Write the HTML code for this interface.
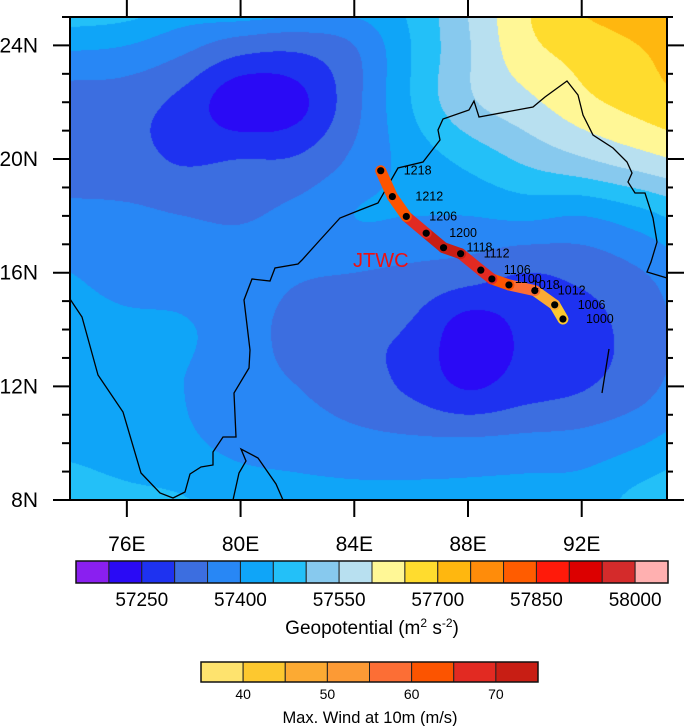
<!DOCTYPE html>
<html><head><meta charset="utf-8"><style>
html,body{margin:0;padding:0;background:#fff;}
#wrap{position:relative;width:685px;height:726px;overflow:hidden;font-family:"Liberation Sans",sans-serif;}
canvas{position:absolute;left:70px;top:17px;}
svg{position:absolute;left:0;top:0;}
</style></head><body>
<div id="wrap">
<canvas id="field" width="597" height="483"></canvas>
<svg id="svg" width="685" height="726"></svg>
</div>
<script>
// ---- data ----
const gridLons = [74,76,78,80,82,84,86,88,90,92,94,96];
const gridLats = [26,24,22,20,18,16,14,12,10,8];
const zRow26 = [57478,57460,57415,57440,57425,57400,57415,57505,57595,57670,57700,57725];
const zRow24 = [57360,57350,57315,57275,57265,57300,57400,57495,57585,57620,57650,57680];
const zRow22 = [57275,57270,57235,57165,57185,57285,57400,57490,57535,57585,57620,57650];
const zRow20 = [57270,57265,57245,57250,57255,57310,57370,57415,57460,57495,57530,57560];
const zRow18 = [57315,57310,57300,57295,57315,57350,57350,57350,57360,57350,57380,57425];
const zRow16 = [57350,57325,57325,57320,57305,57300,57290,57275,57250,57265,57295,57340];
const zRow14 = [57375,57365,57355,57325,57280,57260,57245,57175,57210,57230,57270,57320];
const zRow12 = [57375,57370,57350,57320,57300,57275,57240,57195,57225,57245,57280,57330];
const zRow10 = [57390,57375,57360,57335,57325,57315,57310,57310,57315,57320,57345,57380];
const zRow8  = [57420,57410,57402,57380,57370,57365,57365,57365,57370,57375,57415,57450];
const zLevelStart = 57150, zLevelStep = 50;
const zColors = ["#8a1ff0","#2a0af5","#1e32f0","#3c6ee0","#2887f5","#0fa5f8","#23c0f8","#87c9ee","#b8e0f0","#fff796","#ffdc2e","#ffb70f","#ff8c0a","#ff5c00","#ff1a0a","#dc0000","#d42b2b","#ffb0b0"];
const zTickLabels = ["57250","57400","57550","57700","57850","58000"];
const zTickIndex = [2,5,8,11,14,17];

const trackLabels = ["1000","1006","1012","1018","1100","1106","1112","1118","1200","1206","1212","1218"];
const trackLons = [91.34,91.05,90.35,89.44,88.84,88.45,87.74,87.14,86.53,85.83,85.34,84.93];
const trackLats = [14.37,14.87,15.37,15.57,15.78,16.09,16.67,16.88,17.39,17.98,18.68,19.59];
const trackWinds = [40,44,52,58,62,68,71,72,71,67,62,60];
const windLevels = [35,40,45,50,55,60,65,70,75];
const windColors = ["#fee36e","#fdc82f","#fcaa33","#fc9a35","#fc6e35","#fc5400","#e22a22","#c81e14"];
const windTickLabels = ["40","50","60","70"];

const lonTicks = [76,80,84,88,92];
const latTicks = [12,16,20,24,8];

// ---- axes ----
const X0=70, X1=667, Y0=17, Y1=500, LON0=74, LON1=95, LAT0=8, LAT1=25;
function xS(lon){return X0+(lon-LON0)*(X1-X0)/(LON1-LON0);}
function yS(lat){return Y1-(lat-LAT0)*(Y1-Y0)/(LAT1-LAT0);}
function xInv(px){return LON0+(px-X0)*(LON1-LON0)/(X1-X0);}
function yInv(py){return LAT0+(Y1-py)*(LAT1-LAT0)/(Y1-Y0);}

// ---- field ----
const zRows=[zRow26,zRow24,zRow22,zRow20,zRow18,zRow16,zRow14,zRow12,zRow10,zRow8];
function cr(p0,p1,p2,p3,t){return 0.5*((2*p1)+(-p0+p2)*t+(2*p0-5*p1+4*p2-p3)*t*t+(-p0+3*p1-3*p2+p3)*t*t*t);}
function gv(i,j){i=Math.max(0,Math.min(zRows.length-1,i));j=Math.max(0,Math.min(gridLons.length-1,j));return zRows[i][j];}
function fieldAt(lon,lat){
  const fx=(lon-gridLons[0])/(gridLons[1]-gridLons[0]);
  const fy=(gridLats[0]-lat)/(gridLats[0]-gridLats[1]);
  const j=Math.floor(fx), i=Math.floor(fy), tx=fx-j, ty=fy-i;
  const r=[];
  for(let k=-1;k<=2;k++){r.push(cr(gv(i+k,j-1),gv(i+k,j),gv(i+k,j+1),gv(i+k,j+2),tx));}
  return cr(r[0],r[1],r[2],r[3],ty);
}
function hex(c){return [parseInt(c.substr(1,2),16),parseInt(c.substr(3,2),16),parseInt(c.substr(5,2),16)];}
const cv=document.getElementById('field'), ctx=cv.getContext('2d');
const img=ctx.createImageData(cv.width,cv.height);
const rgb=zColors.map(hex);
for(let py=0;py<cv.height;py++){for(let px=0;px<cv.width;px++){
  const z=fieldAt(xInv(X0+px+0.5),yInv(Y0+py+0.5));
  let k=Math.floor((z-zLevelStart)/zLevelStep)+1; k=Math.max(0,Math.min(zColors.length-1,k));
  const o=(py*cv.width+px)*4, c=rgb[k];
  img.data[o]=c[0];img.data[o+1]=c[1];img.data[o+2]=c[2];img.data[o+3]=255;
}}
ctx.putImageData(img,0,0);

// ---- svg ----
const NS="http://www.w3.org/2000/svg", svg=document.getElementById('svg');
function mk(tag,attrs,parent){const e=document.createElementNS(NS,tag);for(const k in attrs)e.setAttribute(k,attrs[k]);(parent||svg).appendChild(e);return e;}

// coastlines (map geography, pixel polylines)
const coasts=[
 [[70,299],[82,317],[98,375],[123,412],[141,473],[160,493],[173,498],[185,492],[190,474],[201,467],[213,465],[213,452],[223,437],[236,437],[234,393],[249,368],[250,350],[244,300],[252,279],[270,281],[275,268],[298,264],[302,260],[320,240],[340,218],[360,210],[378,203],[398,168],[423,162],[440,140],[438,130],[443,119],[469,110],[474,101],[479,117],[533,107],[545,97],[567,81],[578,95],[583,115],[593,135],[613,148],[627,162],[632,173],[628,182],[635,193],[645,193],[653,218],[657,242],[651,262],[647,272],[667,278]],
 [[233,500],[239,473],[246,461],[241,449],[258,458],[276,484],[283,500]],
 [[609,349],[602,393]]
];
const cg=mk('g',{});


coasts.forEach(c=>{const p=mk('polyline',{points:c.map(q=>q.join(',')).join(' '),fill:'none',stroke:'#000','stroke-width':1.3},cg);

});

// track
function windColor(w){let k=Math.floor((w-windLevels[0])/(windLevels[1]-windLevels[0]));k=Math.max(0,Math.min(windColors.length-1,k));return windColors[k];}
const tg=mk('g',{});


for(let i=0;i<trackLons.length-1;i++){
  const s=mk('line',{x1:xS(trackLons[i]),y1:yS(trackLats[i]),x2:xS(trackLons[i+1]),y2:yS(trackLats[i+1]),stroke:windColor((trackWinds[i]+trackWinds[i+1])/2),'stroke-width':11,'stroke-linecap':'round'},tg);
  
  
}
for(let i=0;i<trackLons.length;i++){
  const d=mk('circle',{cx:xS(trackLons[i]),cy:yS(trackLats[i]),r:3.6,fill:'#000'},tg);
  
  
  const t=mk('text',{x:xS(trackLons[i])+23,y:yS(trackLats[i])+4,'font-size':12.5,fill:'#000'},tg);
  t.textContent=trackLabels[i];
  
  
}
const jt=mk('text',{x:353,y:267,'font-size':20,fill:'#f01010'});
jt.textContent='JTWC';



// frame and ticks
const fr=mk('rect',{x:X0,y:Y0,width:X1-X0,height:Y1-Y0,fill:'none',stroke:'#000','stroke-width':2});


const ax=mk('g',{stroke:'#000','stroke-width':2});


lonTicks.forEach(l=>{const x=xS(l);mk('line',{x1:x,y1:Y1,x2:x,y2:Y1+17},ax);mk('line',{x1:x,y1:Y0,x2:x,y2:Y0-17},ax);
  const t=mk('text',{x:x,y:551,'font-size':21,'text-anchor':'middle',fill:'#000',stroke:'none'});t.textContent=l+'E';
  
  });
for(let lat=LAT0;lat<=LAT1;lat++){const y=yS(lat);const major=(lat%4===0);
  mk('line',{x1:X0,y1:y,x2:X0-(major?17:8),y2:y},ax);mk('line',{x1:X1,y1:y,x2:X1+(major?17:6),y2:y},ax);}
latTicks.forEach(l=>{const t=mk('text',{x:38,y:yS(l)+7,'font-size':21,'text-anchor':'end',fill:'#000'});t.textContent=l+'N';
  
  });

// geopotential colorbar
const cb1=mk('g',{});


const cbX=76,cbW=592,cbY=561,cbH=22,bw=cbW/zColors.length;
zColors.forEach((c,i)=>{const r=mk('rect',{x:cbX+i*bw,y:cbY,width:bw,height:cbH,fill:c,stroke:'#222','stroke-width':1},cb1);
  
  });
mk('rect',{x:cbX,y:cbY,width:cbW,height:cbH,fill:'none',stroke:'#111','stroke-width':1.5},cb1);
zTickLabels.forEach((s,i)=>{const t=mk('text',{x:cbX+zTickIndex[i]*bw,y:606,'font-size':19,'text-anchor':'middle',fill:'#000'},cb1);t.textContent=s;
  
  });
const t1=mk('text',{x:372,y:634,'font-size':19,'text-anchor':'middle',fill:'#000'},cb1);
t1.innerHTML='Geopotential (m<tspan dy="-7" font-size="12">2</tspan><tspan dy="7"> s</tspan><tspan dy="-7" font-size="12">-2</tspan><tspan dy="7">)</tspan>';



// wind colorbar
const cb2=mk('g',{});


const wX=201,wW=337,wY=662,wH=20,ww=wW/windColors.length;
windColors.forEach((c,i)=>{const r=mk('rect',{x:wX+i*ww,y:wY,width:ww,height:wH,fill:c,stroke:'#222','stroke-width':1},cb2);
  
  });
mk('rect',{x:wX,y:wY,width:wW,height:wH,fill:'none',stroke:'#111','stroke-width':1.5},cb2);
windTickLabels.forEach((s,i)=>{const t=mk('text',{x:wX+(1+2*i)*ww,y:699,'font-size':14,'text-anchor':'middle',fill:'#000'},cb2);t.textContent=s;
  
  });
const t2=mk('text',{x:370,y:723,'font-size':16.5,'text-anchor':'middle',fill:'#000'},cb2);
t2.textContent='Max. Wind at 10m (m/s)';


</script>
</body></html>
